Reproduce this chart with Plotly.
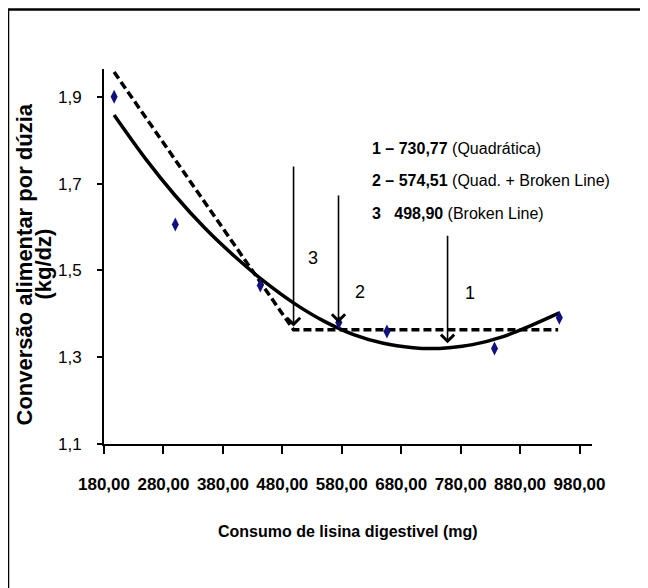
import plotly.graph_objects as go

# observed points: lysine intake (mg) vs feed conversion (kg/dz)
lysine_x = [197, 300, 443, 575, 656, 837, 946]
fcr_y = [1.900, 1.606, 1.465, 1.380, 1.359, 1.320, 1.391]

# quadratic fit
quad_x = [197, 250, 300, 350, 400, 450, 500, 550, 600, 650, 700, 730, 760, 800, 850, 900, 946]
quad_y = [1.858, 1.757, 1.672, 1.597, 1.532, 1.474, 1.424, 1.383, 1.352, 1.332,
          1.322, 1.320, 1.322, 1.329, 1.347, 1.374, 1.402]

# broken line fit
broken_x = [197, 498.9, 944]
broken_y = [1.957, 1.363, 1.363]

# arrows marking the requirement estimates
arrow_names = ["1", "2", "3"]
arrow_x = [758, 574.51, 498.9]
arrow_top = [1.583, 1.676, 1.743]
arrow_tip = [1.332, 1.379, 1.371]
arrow_label_x = [796, 610, 532]
arrow_label_y = [1.448, 1.451, 1.528]

legend_bold = ["1 \u2013 730,77", "2 \u2013 574,51", "3\u00a0\u00a0\u00a0498,90"]
legend_rest = ["(Quadrática)", "(Quad. + Broken Line)", "(Broken Line)"]
legend_y = [1.780, 1.706, 1.632]

y_title = ["Conversão alimentar por dúzia", "(kg/dz)"]

sans = "Liberation Sans, Arial, sans-serif"

fig = go.Figure()
fig.add_trace(go.Scatter(x=quad_x, y=quad_y, mode="lines", line_shape="spline",
                         line=dict(color="black", width=3.5), hoverinfo="skip"))
fig.add_trace(go.Scatter(x=broken_x, y=broken_y, mode="lines",
                         line=dict(color="black", width=3.5, dash="8px,4px"), hoverinfo="skip"))
fig.add_trace(go.Scatter(x=lysine_x, y=fcr_y, mode="markers",
                         marker=dict(symbol="diamond-tall", size=10, color="#10107f")))

for name, xa, yt, yb, lx, ly in zip(arrow_names, arrow_x, arrow_top, arrow_tip,
                                    arrow_label_x, arrow_label_y):
    fig.add_annotation(x=xa, y=yb, ax=xa, ay=yt, axref="x", ayref="y", text="",
                       showarrow=True, arrowhead=4, arrowsize=1.6, arrowwidth=1.6,
                       arrowcolor="black")
    fig.add_annotation(x=lx, y=ly, text=name, showarrow=False,
                       font=dict(family=sans, size=18, color="black"))

for b, r, ly in zip(legend_bold, legend_rest, legend_y):
    fig.add_annotation(x=627.8, y=ly, xanchor="left", yanchor="middle", showarrow=False,
                       text="<b>" + b + "</b> " + r,
                       font=dict(family=sans, size=16, color="black"))

# axis titles
for line, px in zip(y_title, [-0.163, -0.126]):
    fig.add_annotation(xref="paper", yref="paper", x=px, y=0.48, textangle=-90,
                       xanchor="center", yanchor="middle", showarrow=False,
                       text="<b>" + line + "</b>",
                       font=dict(family=sans, size=22, color="black"))
fig.add_annotation(xref="paper", yref="paper", x=0.5, y=-0.232,
                   xanchor="center", yanchor="middle", showarrow=False,
                   text="<b>Consumo de lisina digestivel (mg)</b>",
                   font=dict(family=sans, size=16, color="black"))

# outer frame (only top and left edges fall inside the picture)
fig.add_shape(type="line", xref="paper", yref="paper", x0=-0.1967, x1=1.2, y0=1.1587, y1=1.1587,
              line=dict(color="black", width=2.5))
fig.add_shape(type="line", xref="paper", yref="paper", x0=-0.1967, x1=-0.1967, y0=1.1587, y1=-0.5,
              line=dict(color="black", width=2.5))

fig.update_layout(
    width=648, height=588,
    margin=dict(l=96, r=64, t=61, b=152, pad=0),
    paper_bgcolor="white", plot_bgcolor="white",
    showlegend=False,
    separators=",.",
    xaxis=dict(range=[180, 1001], tick0=180, dtick=100, tickformat=".2f", tickangle=0,
               showgrid=False, zeroline=False, showline=True, linecolor="black", linewidth=2,
               ticks="outside", ticklen=8, tickwidth=2, tickcolor="black",
               ticklabelstandoff=16,
               tickfont=dict(family=sans, size=17, color="black", weight="bold")),
    yaxis=dict(range=[1.1, 1.964], tick0=1.1, dtick=0.2, tickformat=".1f",
               showgrid=False, zeroline=False, showline=True, linecolor="black", linewidth=2,
               ticks="outside", ticklen=5, tickwidth=2, tickcolor="black",
               ticklabelstandoff=12,
               tickfont=dict(family=sans, size=17, color="black")),
)

fig.write_html("out.html")
